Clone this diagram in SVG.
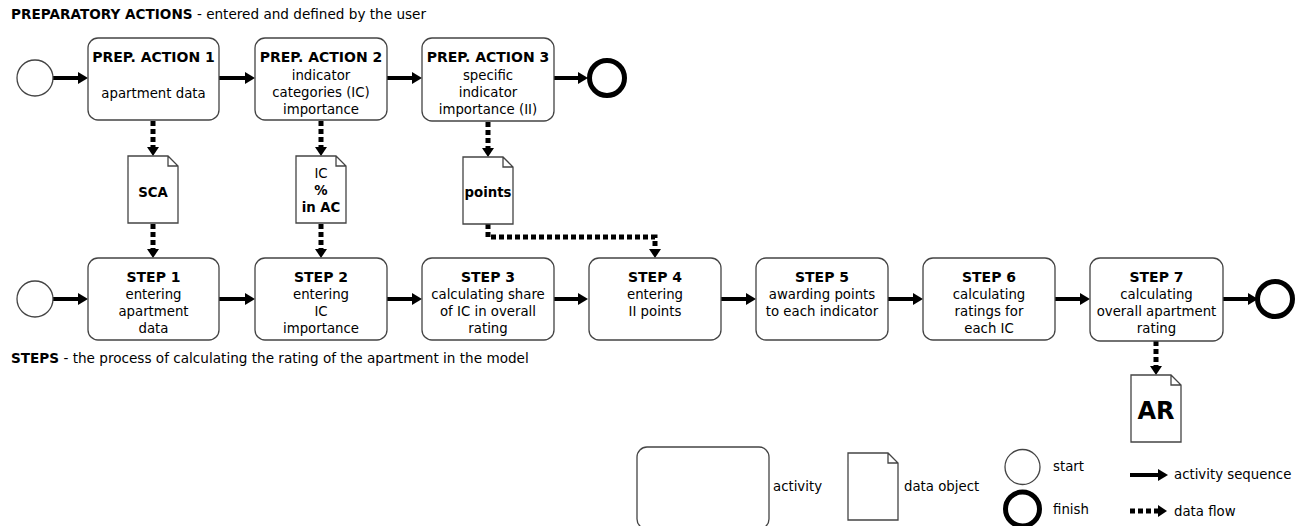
<svg xmlns="http://www.w3.org/2000/svg" width="1302" height="526" viewBox="0 0 1302 526">
<style>
text{font-family:"DejaVu Sans",Verdana,sans-serif;fill:#000}
.t{font-size:13.3px;text-anchor:middle}
.b{font-weight:bold}
.h{font-size:14px}
.act{fill:#fff;stroke:#444;stroke-width:1.3}
.doc{fill:#fff;stroke:#444;stroke-width:1.3}
.start{fill:#fff;stroke:#444;stroke-width:1.3}
.fin{fill:#fff;stroke:#000;stroke-width:5}
.seq{fill:none;stroke:#000;stroke-width:4}
.flow{fill:none;stroke:#000;stroke-width:5;stroke-dasharray:5 3}
.lg{font-size:13.3px}
.ttl{font-size:13.6px}
</style>
<defs>
<marker id="ah" markerUnits="userSpaceOnUse" markerWidth="10" markerHeight="12" refX="0" refY="6" orient="auto"><path d="M0,0 L10,6 L0,12 z" fill="#000"/></marker>
<marker id="ahd" markerUnits="userSpaceOnUse" markerWidth="10" markerHeight="12" refX="0" refY="6" orient="auto"><path d="M0,0 L9,6 L0,12 z" fill="#000"/></marker>
<path id="docShape" d="M0,0 H40 L50,10 V67 H0 Z M40,0 V10 H50"/>
</defs>

<text class="ttl" x="11" y="19"><tspan class="b">PREPARATORY ACTIONS</tspan> - entered and defined by the user</text>
<text class="ttl" x="11" y="363"><tspan class="b">STEPS</tspan> - the process of calculating the rating of the apartment in the model</text>

<g id="connectors">
<path class="seq" d="M53,78 H78" marker-end="url(#ah)"/>
<path class="seq" d="M219,78 H245" marker-end="url(#ah)"/>
<path class="seq" d="M387,78 H412" marker-end="url(#ah)"/>
<path class="seq" d="M554,78 H578" marker-end="url(#ah)"/>
<path class="seq" d="M53,299 H78" marker-end="url(#ah)"/>
<path class="seq" d="M219,299 H245" marker-end="url(#ah)"/>
<path class="seq" d="M387,299 H412" marker-end="url(#ah)"/>
<path class="seq" d="M554,299 H578" marker-end="url(#ah)"/>
<path class="seq" d="M721,299 H746" marker-end="url(#ah)"/>
<path class="seq" d="M888,299 H913" marker-end="url(#ah)"/>
<path class="seq" d="M1055,299 H1080" marker-end="url(#ah)"/>
<path class="seq" d="M1223,299 H1248" marker-end="url(#ah)"/>
<path class="flow" d="M153,121 V147" marker-end="url(#ahd)"/>
<path class="flow" d="M153,224 V249" marker-end="url(#ahd)"/>
<path class="flow" d="M321,121 V147" marker-end="url(#ahd)"/>
<path class="flow" d="M321,224 V249" marker-end="url(#ahd)"/>
<path class="flow" d="M488,122 V148" marker-end="url(#ahd)"/>
<path class="flow" d="M488,224 V237 H655 V249" marker-end="url(#ahd)"/>
<path class="flow" d="M1156,341 V366" marker-end="url(#ahd)"/>
</g>

<g id="start1"><circle class="start" cx="35" cy="78" r="18"/></g>
<g id="prep1"><rect class="act" x="88" y="38" width="131" height="82" rx="10"/>
<text class="t b h" x="153.5" y="62">PREP. ACTION 1</text>
<text class="t" x="153.5" y="98">apartment data</text></g>
<g id="prep2"><rect class="act" x="255" y="38" width="132" height="82" rx="10"/>
<text class="t b h" x="321" y="62">PREP. ACTION 2</text>
<text class="t" x="321" y="80">indicator</text>
<text class="t" x="321" y="97">categories (IC)</text>
<text class="t" x="321" y="114">importance</text></g>
<g id="prep3"><rect class="act" x="422" y="38" width="132" height="83" rx="10"/>
<text class="t b h" x="488" y="62">PREP. ACTION 3</text>
<text class="t" x="488" y="80">specific</text>
<text class="t" x="488" y="97">indicator</text>
<text class="t" x="488" y="114">importance (II)</text></g>
<g id="end1"><circle class="fin" cx="607" cy="78" r="17.5"/></g>

<g id="docSCA"><use href="#docShape" x="128" y="156" class="doc"/>
<text class="t b" x="153" y="197">SCA</text></g>
<g id="docIC"><use href="#docShape" x="296" y="156" class="doc"/>
<text class="t" x="321" y="178">IC</text>
<text class="t b" x="321" y="195">%</text>
<text class="t b" x="321" y="212">in AC</text></g>
<g id="docPoints"><use href="#docShape" x="463" y="157" class="doc"/>
<text class="t b" x="488" y="197">points</text></g>

<g id="start2"><circle class="start" cx="35" cy="299" r="18"/></g>
<g id="step1"><rect class="act" x="88" y="258" width="131" height="82" rx="10"/>
<text class="t b h" x="153.5" y="282">STEP 1</text>
<text class="t" x="153.5" y="299">entering</text>
<text class="t" x="153.5" y="316">apartment</text>
<text class="t" x="153.5" y="333">data</text></g>
<g id="step2"><rect class="act" x="255" y="258" width="132" height="82" rx="10"/>
<text class="t b h" x="321" y="282">STEP 2</text>
<text class="t" x="321" y="299">entering</text>
<text class="t" x="321" y="316">IC</text>
<text class="t" x="321" y="333">importance</text></g>
<g id="step3"><rect class="act" x="422" y="258" width="132" height="82" rx="10"/>
<text class="t b h" x="488" y="282">STEP 3</text>
<text class="t" x="488" y="299">calculating share</text>
<text class="t" x="488" y="316">of IC in overall</text>
<text class="t" x="488" y="333">rating</text></g>
<g id="step4"><rect class="act" x="589" y="258" width="132" height="82" rx="10"/>
<text class="t b h" x="655" y="282">STEP 4</text>
<text class="t" x="655" y="299">entering</text>
<text class="t" x="655" y="316">II points</text></g>
<g id="step5"><rect class="act" x="756" y="258" width="132" height="82" rx="10"/>
<text class="t b h" x="822" y="282">STEP 5</text>
<text class="t" x="822" y="299">awarding points</text>
<text class="t" x="822" y="316">to each indicator</text></g>
<g id="step6"><rect class="act" x="923" y="258" width="132" height="82" rx="10"/>
<text class="t b h" x="989" y="282">STEP 6</text>
<text class="t" x="989" y="299">calculating</text>
<text class="t" x="989" y="316">ratings for</text>
<text class="t" x="989" y="333">each IC</text></g>
<g id="step7"><rect class="act" x="1090" y="258" width="133" height="83" rx="10"/>
<text class="t b h" x="1156.5" y="282">STEP 7</text>
<text class="t" x="1156.5" y="299">calculating</text>
<text class="t" x="1156.5" y="316">overall apartment</text>
<text class="t" x="1156.5" y="333">rating</text></g>
<g id="end2"><circle class="fin" cx="1275" cy="299" r="17.5"/></g>
<g id="docAR"><use href="#docShape" x="1131" y="375" class="doc"/>
<text class="t b" x="1156" y="419" style="font-size:24px">AR</text></g>

<g id="legend">
<rect class="act" x="637" y="447" width="132" height="82" rx="10"/>
<text class="lg" x="773" y="491">activity</text>
<use href="#docShape" x="848" y="453" class="doc"/>
<text class="lg" x="904" y="491">data object</text>
<circle class="start" cx="1022.5" cy="467" r="17.5"/>
<text class="lg" x="1053" y="471">start</text>
<circle class="fin" cx="1022.5" cy="509" r="17"/>
<text class="lg" x="1053" y="514">finish</text>
<path class="seq" d="M1130,475 H1158" marker-end="url(#ah)"/>
<text class="lg" x="1174" y="479">activity sequence</text>
<path class="flow" d="M1130,511 H1158" marker-end="url(#ahd)"/>
<text class="lg" x="1174" y="516">data flow</text>
</g>
</svg>
